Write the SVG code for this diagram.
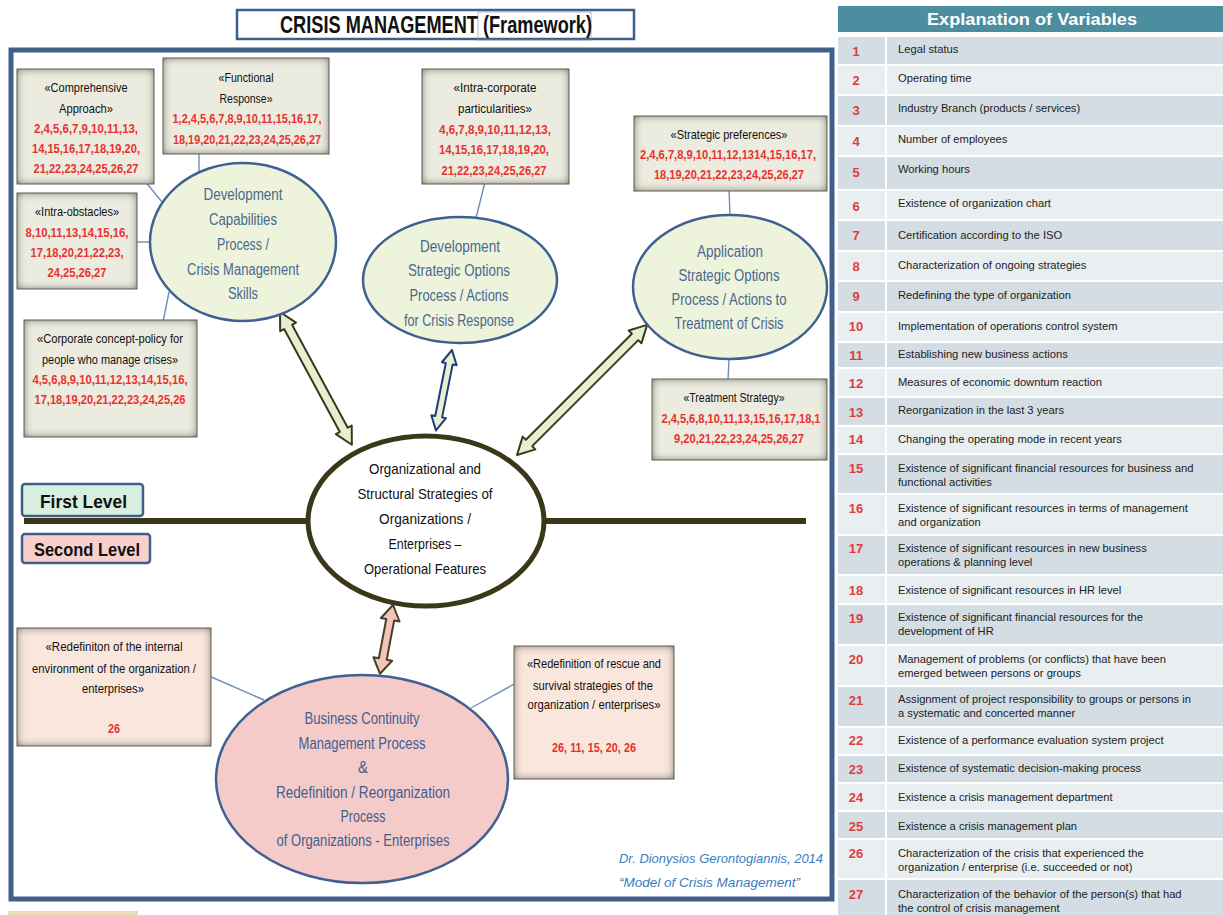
<svg xmlns="http://www.w3.org/2000/svg" width="1223" height="915" viewBox="0 0 1223 915">
  <defs>
    <!-- soft dark edge inside the note boxes -->
    <filter id="inset" x="-10%" y="-10%" width="120%" height="120%">
      <feFlood flood-color="#2e2e22" result="c"/>
      <feComposite in="c" in2="SourceAlpha" operator="out" result="ring"/>
      <feGaussianBlur in="ring" stdDeviation="4" result="soft"/>
      <feComposite in="soft" in2="SourceAlpha" operator="in" result="edge"/>
      <feMerge><feMergeNode in="SourceGraphic"/><feMergeNode in="edge"/></feMerge>
    </filter>
    <style>
      .note { fill: #ebebdf; }
      .pink { fill: #f9e6dc; }
      .noteEdge { fill: none; stroke: #5e5e50; stroke-width: 1; }
      .bt { font-family: "Liberation Sans Narrow", "Liberation Sans", Arial, sans-serif; font-size: 13.5px; fill: #111; text-anchor: middle; }
      .rn { font-family: "Liberation Sans Narrow", "Liberation Sans", Arial, sans-serif; font-size: 13.5px; font-weight: bold; fill: #e8322f; text-anchor: middle; }
      .proc { fill: #eef3dc; stroke: #3f6090; stroke-width: 2.5; }
      .et { font-family: "Liberation Sans Narrow", "Liberation Sans", Arial, sans-serif; font-size: 16px; fill: #4a6890; text-anchor: middle; }
      .ct { font-family: "Liberation Sans Narrow", "Liberation Sans", Arial, sans-serif; font-size: 15px; fill: #111; text-anchor: middle; }
      .lk { stroke: #6f8fb8; stroke-width: 1.4; fill: none; }
      .blk { fill: #e6efd2; stroke: #3a3a18; stroke-width: 2; stroke-linejoin: round; }
      .tt { font-family: "Liberation Sans", Arial, sans-serif; font-size: 11.2px; fill: #222; }
      .tn { font-family: "Liberation Sans", Arial, sans-serif; font-size: 13px; font-weight: bold; fill: #e03c3c; text-anchor: middle; }
      .rowA { fill: #d3dde3; }
      .rowB { fill: #e9eef1; }
      .lvl { font-family: "Liberation Sans Narrow", "Liberation Sans", Arial, sans-serif; font-size: 18px; font-weight: bold; fill: #111; }
    </style>
  </defs>

  <rect x="0" y="0" width="1223" height="915" fill="#ffffff"/>

  <!-- title -->
  <g id="title">
    <rect x="237" y="10" width="397" height="29" fill="#ffffff" stroke="#3e5f8a" stroke-width="2.5"/>
    <rect x="478" y="12" width="113" height="28" fill="none" stroke="#888" stroke-width="0.6"/>
    <text x="436" y="33" font-family="'Liberation Sans Narrow','Liberation Sans',Arial,sans-serif" font-size="24" font-weight="bold" fill="#111" text-anchor="middle" textLength="312" lengthAdjust="spacingAndGlyphs">CRISIS MANAGEMENT (Framework)</text>
  </g>

  <!-- outer frame -->
  <rect id="frame" x="11" y="50" width="821" height="849" fill="none" stroke="#3e5f8a" stroke-width="5"/>

  <!-- level divider -->
  <g id="levels">
    <line x1="24" y1="521" x2="307" y2="521" stroke="#3a3818" stroke-width="6"/>
    <line x1="544" y1="521" x2="806" y2="521" stroke="#3a3818" stroke-width="6"/>
    <g id="first-level">
      <rect x="22" y="484" width="121" height="32" rx="3" fill="#d8efe0" stroke="#3e5f8a" stroke-width="2.5"/>
      <text class="lvl" x="40" y="508" textLength="87" lengthAdjust="spacingAndGlyphs">First Level</text>
    </g>
    <g id="second-level">
      <rect x="22" y="534" width="128" height="29" rx="3" fill="#f7d0cc" stroke="#3e5f8a" stroke-width="2.5"/>
      <text class="lvl" x="34" y="556" textLength="106" lengthAdjust="spacingAndGlyphs">Second Level</text>
    </g>
  </g>

  <!-- connectors -->
  <g id="connectors">
    <line class="lk" x1="144" y1="180" x2="162" y2="202"/>
    <line class="lk" x1="199" y1="152" x2="199" y2="173"/>
    <line class="lk" x1="135" y1="242" x2="151" y2="242"/>
    <line class="lk" x1="163" y1="322" x2="169" y2="292"/>
    <line class="lk" x1="485" y1="182" x2="476" y2="218"/>
    <line class="lk" x1="729" y1="189" x2="730" y2="216"/>
    <line class="lk" x1="729" y1="358" x2="728" y2="381"/>
    <line class="lk" x1="209" y1="676" x2="264" y2="700"/>
    <line class="lk" x1="516" y1="683" x2="471" y2="708"/>
    <!-- double block arrows -->
    <polygon class="blk" transform="translate(280,312) rotate(61.57)" points="0,0 17,-9 17,-4.5 134,-4.5 134,-9 151,0 134,9 134,4.5 17,4.5 17,9"/>
    <polygon class="blk" style="stroke:#1d3c78" transform="translate(452,350) rotate(101.3)" points="0,0 14,-7.5 14,-3.5 68,-3.5 68,-7.5 82,0 68,7.5 68,3.5 14,3.5 14,7.5"/>
    <polygon class="blk" transform="translate(517,455) rotate(-45)" points="0,0 17,-9 17,-4.5 167,-4.5 167,-9 184,0 167,9 167,4.5 17,4.5 17,9"/>
    <polygon class="blk" style="fill:#f2c4bc;stroke:#4a4020" transform="translate(393,605) rotate(100.7)" points="0,0 15,-9.5 15,-4 55,-4 55,-9.5 70,0 55,9.5 55,4 15,4 15,9.5"/>
  </g>

  <!-- note boxes -->
  <g id="comprehensive-approach">
    <rect class="note" x="17" y="69" width="137" height="115" filter="url(#inset)"/>
    <rect class="noteEdge" x="17" y="69" width="137" height="115"/>
    <text class="bt" x="86" y="92" textLength="83" lengthAdjust="spacingAndGlyphs">«Comprehensive</text>
    <text class="bt" x="86" y="113" textLength="54" lengthAdjust="spacingAndGlyphs">Approach»</text>
    <text class="rn" x="86" y="133" textLength="104" lengthAdjust="spacingAndGlyphs">2,4,5,6,7,9,10,11,13,</text>
    <text class="rn" x="86" y="153" textLength="108" lengthAdjust="spacingAndGlyphs">14,15,16,17,18,19,20,</text>
    <text class="rn" x="86" y="173" textLength="105" lengthAdjust="spacingAndGlyphs">21,22,23,24,25,26,27</text>
  </g>

  <g id="functional-response">
    <rect class="note" x="163" y="58" width="166" height="96" filter="url(#inset)"/>
    <rect class="noteEdge" x="163" y="58" width="166" height="96"/>
    <text class="bt" x="246" y="82" textLength="55" lengthAdjust="spacingAndGlyphs">«Functional</text>
    <text class="bt" x="246" y="103" textLength="53" lengthAdjust="spacingAndGlyphs">Response»</text>
    <text class="rn" x="247" y="123" textLength="149" lengthAdjust="spacingAndGlyphs">1,2,4,5,6,7,8,9,10,11,15,16,17,</text>
    <text class="rn" x="247" y="144" textLength="148" lengthAdjust="spacingAndGlyphs">18,19,20,21,22,23,24,25,26,27</text>
  </g>

  <g id="intra-obstacles">
    <rect class="note" x="17" y="193" width="120" height="96" filter="url(#inset)"/>
    <rect class="noteEdge" x="17" y="193" width="120" height="96"/>
    <text class="bt" x="77" y="216" textLength="84" lengthAdjust="spacingAndGlyphs">«Intra-obstacles»</text>
    <text class="rn" x="77" y="237" textLength="103" lengthAdjust="spacingAndGlyphs">8,10,11,13,14,15,16,</text>
    <text class="rn" x="77" y="257" textLength="93" lengthAdjust="spacingAndGlyphs">17,18,20,21,22,23,</text>
    <text class="rn" x="77" y="277" textLength="59" lengthAdjust="spacingAndGlyphs">24,25,26,27</text>
  </g>

  <g id="corporate-concept-policy">
    <rect class="note" x="24" y="320" width="173" height="117" filter="url(#inset)"/>
    <rect class="noteEdge" x="24" y="320" width="173" height="117"/>
    <text class="bt" x="110" y="343" textLength="146" lengthAdjust="spacingAndGlyphs">«Corporate concept-policy  for</text>
    <text class="bt" x="110" y="364" textLength="136" lengthAdjust="spacingAndGlyphs">people who manage crises»</text>
    <text class="rn" x="110" y="384" textLength="155" lengthAdjust="spacingAndGlyphs">4,5,6,8,9,10,11,12,13,14,15,16,</text>
    <text class="rn" x="110" y="404" textLength="151" lengthAdjust="spacingAndGlyphs">17,18,19,20,21,22,23,24,25,26</text>
  </g>

  <g id="intra-corporate-particularities">
    <rect class="note" x="422" y="69" width="147" height="115" filter="url(#inset)"/>
    <rect class="noteEdge" x="422" y="69" width="147" height="115"/>
    <text class="bt" x="495" y="92" textLength="83" lengthAdjust="spacingAndGlyphs">«Intra-corporate</text>
    <text class="bt" x="495" y="113" textLength="74" lengthAdjust="spacingAndGlyphs">particularities»</text>
    <text class="rn" x="495" y="134" textLength="112" lengthAdjust="spacingAndGlyphs">4,6,7,8,9,10,11,12,13,</text>
    <text class="rn" x="494" y="154" textLength="110" lengthAdjust="spacingAndGlyphs">14,15,16,17,18,19,20,</text>
    <text class="rn" x="494" y="175" textLength="105" lengthAdjust="spacingAndGlyphs">21,22,23,24,25,26,27</text>
  </g>

  <g id="strategic-preferences">
    <rect class="note" x="634" y="116" width="193" height="75" filter="url(#inset)"/>
    <rect class="noteEdge" x="634" y="116" width="193" height="75"/>
    <text class="bt" x="729" y="139" textLength="117" lengthAdjust="spacingAndGlyphs">«Strategic preferences»</text>
    <text class="rn" x="728" y="159" font-size="13" textLength="176" lengthAdjust="spacingAndGlyphs">2,4,6,7,8,9,10,11,12,1314,15,16,17,</text>
    <text class="rn" x="729" y="179" textLength="150" lengthAdjust="spacingAndGlyphs">18,19,20,21,22,23,24,25,26,27</text>
  </g>

  <g id="treatment-strategy">
    <rect class="note" x="652" y="379" width="175" height="81" filter="url(#inset)"/>
    <rect class="noteEdge" x="652" y="379" width="175" height="81"/>
    <text class="bt" x="734" y="402" textLength="101" lengthAdjust="spacingAndGlyphs">«Treatment Strategy»</text>
    <text class="rn" x="741" y="423" style="font-size:13px" textLength="159" lengthAdjust="spacingAndGlyphs">2,4,5,6,8,10,11,13,15,16,17,18,1</text>
    <text class="rn" x="739" y="443" textLength="130" lengthAdjust="spacingAndGlyphs">9,20,21,22,23,24,25,26,27</text>
  </g>

  <g id="internal-environment">
    <rect class="pink" x="17" y="628" width="194" height="118" filter="url(#inset)"/>
    <rect class="noteEdge" x="17" y="628" width="194" height="118"/>
    <text class="bt" x="114" y="651" textLength="137" lengthAdjust="spacingAndGlyphs">«Redefiniton  of the internal</text>
    <text class="bt" x="114" y="673" textLength="164" lengthAdjust="spacingAndGlyphs">environment of the organization /</text>
    <text class="bt" x="113" y="693" textLength="62" lengthAdjust="spacingAndGlyphs">enterprises»</text>
    <text class="rn" x="114" y="733" textLength="12" lengthAdjust="spacingAndGlyphs">26</text>
  </g>

  <g id="rescue-survival">
    <rect class="pink" x="514" y="646" width="160" height="133" filter="url(#inset)"/>
    <rect class="noteEdge" x="514" y="646" width="160" height="133"/>
    <text class="bt" x="594" y="668" textLength="134" lengthAdjust="spacingAndGlyphs">«Redefinition  of rescue and</text>
    <text class="bt" x="593" y="690" textLength="120" lengthAdjust="spacingAndGlyphs">survival strategies of the</text>
    <text class="bt" x="594" y="709" textLength="133" lengthAdjust="spacingAndGlyphs">organization / enterprises»</text>
    <text class="rn" x="594" y="752" textLength="84" lengthAdjust="spacingAndGlyphs">26, 11, 15, 20, 26</text>
  </g>

  <!-- process ellipses -->
  <g id="development-capabilities">
    <ellipse class="proc" cx="243" cy="242" rx="93" ry="79"/>
    <text class="et" x="243" y="200" textLength="79" lengthAdjust="spacingAndGlyphs">Development</text>
    <text class="et" x="243" y="225" textLength="68" lengthAdjust="spacingAndGlyphs">Capabilities</text>
    <text class="et" x="243" y="250" textLength="52" lengthAdjust="spacingAndGlyphs">Process /</text>
    <text class="et" x="243" y="275" textLength="112" lengthAdjust="spacingAndGlyphs">Crisis Management</text>
    <text class="et" x="243" y="299" textLength="30" lengthAdjust="spacingAndGlyphs">Skills</text>
  </g>

  <g id="development-strategic-options">
    <ellipse class="proc" cx="460" cy="280" rx="97" ry="63"/>
    <text class="et" x="460" y="252" textLength="80" lengthAdjust="spacingAndGlyphs">Development</text>
    <text class="et" x="459" y="276" textLength="102" lengthAdjust="spacingAndGlyphs">Strategic Options</text>
    <text class="et" x="459" y="301" textLength="99" lengthAdjust="spacingAndGlyphs">Process / Actions</text>
    <text class="et" x="459" y="326" textLength="110" lengthAdjust="spacingAndGlyphs">for Crisis Response</text>
  </g>

  <g id="application-strategic-options">
    <ellipse class="proc" cx="730" cy="287" rx="97" ry="72"/>
    <text class="et" x="730" y="257" textLength="66" lengthAdjust="spacingAndGlyphs">Application</text>
    <text class="et" x="729" y="281" textLength="101" lengthAdjust="spacingAndGlyphs">Strategic Options</text>
    <text class="et" x="729" y="305" textLength="115" lengthAdjust="spacingAndGlyphs">Process / Actions to</text>
    <text class="et" x="729" y="329" textLength="109" lengthAdjust="spacingAndGlyphs">Treatment of Crisis</text>
  </g>

  <g id="organizational-strategies">
    <ellipse cx="426" cy="521" rx="118" ry="85" fill="#ffffff" stroke="#3a3818" stroke-width="5"/>
    <text class="ct" x="425" y="474" textLength="112" lengthAdjust="spacingAndGlyphs">Organizational and</text>
    <text class="ct" x="425" y="499" textLength="135" lengthAdjust="spacingAndGlyphs">Structural Strategies of</text>
    <text class="ct" x="425" y="524" textLength="92" lengthAdjust="spacingAndGlyphs">Organizations /</text>
    <text class="ct" x="425" y="549" textLength="73" lengthAdjust="spacingAndGlyphs">Enterprises –</text>
    <text class="ct" x="425" y="574" textLength="122" lengthAdjust="spacingAndGlyphs">Operational Features</text>
  </g>

  <g id="business-continuity">
    <ellipse cx="362" cy="779" rx="146" ry="104" fill="#f5cbca" stroke="#3f6090" stroke-width="2.5"/>
    <text class="et" style="fill:#3e5f8e" x="362" y="724" textLength="115" lengthAdjust="spacingAndGlyphs">Business Continuity</text>
    <text class="et" style="fill:#3e5f8e" x="362" y="749" textLength="127" lengthAdjust="spacingAndGlyphs">Management Process</text>
    <text class="et" style="fill:#3e5f8e" x="363" y="773" textLength="10" lengthAdjust="spacingAndGlyphs">&amp;</text>
    <text class="et" style="fill:#3e5f8e" x="363" y="798" textLength="174" lengthAdjust="spacingAndGlyphs">Redefinition / Reorganization</text>
    <text class="et" style="fill:#3e5f8e" x="363" y="822" textLength="45" lengthAdjust="spacingAndGlyphs">Process</text>
    <text class="et" style="fill:#3e5f8e" x="363" y="846" textLength="173" lengthAdjust="spacingAndGlyphs">of Organizations - Enterprises</text>
  </g>

  <!-- author credit -->
  <g id="credit" font-family="'Liberation Sans Narrow','Liberation Sans',Arial,sans-serif" font-size="13.5" font-style="italic" fill="#3a7cc0">
    <text x="619" y="863" textLength="204" lengthAdjust="spacingAndGlyphs">Dr. Dionysios Gerontogiannis, 2014</text>
    <text x="619" y="887" textLength="181" lengthAdjust="spacingAndGlyphs">“Model of Crisis Management”</text>
  </g>

  <rect x="8" y="911" width="130" height="4" fill="#eadcb8"/>

  <!-- variables table -->
  <g id="variables-table">
    <rect x="838" y="6" width="385" height="26" fill="#4b8ea0"/>
    <text x="1032" y="25" font-family="'Liberation Sans',Arial,sans-serif" font-size="16.5" font-weight="bold" fill="#ffffff" text-anchor="middle" textLength="210" lengthAdjust="spacingAndGlyphs">Explanation of Variables</text>

    <g id="row-1"><rect class="rowA" x="838" y="37" width="47" height="27"/><rect class="rowA" x="887" y="37" width="336" height="27"/><text class="tn" x="856" y="56">1</text><text class="tt" x="898" y="53">Legal status</text></g>
    <g id="row-2"><rect class="rowB" x="838" y="66" width="47" height="28"/><rect class="rowB" x="887" y="66" width="336" height="28"/><text class="tn" x="856" y="85">2</text><text class="tt" x="898" y="82">Operating time</text></g>
    <g id="row-3"><rect class="rowA" x="838" y="96" width="47" height="29"/><rect class="rowA" x="887" y="96" width="336" height="29"/><text class="tn" x="856" y="115">3</text><text class="tt" x="898" y="112">Industry Branch (products / services)</text></g>
    <g id="row-4"><rect class="rowB" x="838" y="127" width="47" height="28"/><rect class="rowB" x="887" y="127" width="336" height="28"/><text class="tn" x="856" y="146">4</text><text class="tt" x="898" y="143">Number of employees</text></g>
    <g id="row-5"><rect class="rowA" x="838" y="157" width="47" height="32"/><rect class="rowA" x="887" y="157" width="336" height="32"/><text class="tn" x="856" y="177">5</text><text class="tt" x="898" y="173">Working hours</text></g>
    <g id="row-6"><rect class="rowB" x="838" y="191" width="47" height="28"/><rect class="rowB" x="887" y="191" width="336" height="28"/><text class="tn" x="856" y="211">6</text><text class="tt" x="898" y="207">Existence of organization chart</text></g>
    <g id="row-7"><rect class="rowA" x="838" y="221" width="47" height="29"/><rect class="rowA" x="887" y="221" width="336" height="29"/><text class="tn" x="856" y="240">7</text><text class="tt" x="898" y="239">Certification according to the ISO</text></g>
    <g id="row-8"><rect class="rowB" x="838" y="252" width="47" height="28"/><rect class="rowB" x="887" y="252" width="336" height="28"/><text class="tn" x="856" y="271">8</text><text class="tt" x="898" y="269">Characterization of ongoing strategies</text></g>
    <g id="row-9"><rect class="rowA" x="838" y="282" width="47" height="29"/><rect class="rowA" x="887" y="282" width="336" height="29"/><text class="tn" x="856" y="301">9</text><text class="tt" x="898" y="299">Redefining the type of organization</text></g>
    <g id="row-10"><rect class="rowB" x="838" y="313" width="47" height="28"/><rect class="rowB" x="887" y="313" width="336" height="28"/><text class="tn" x="856" y="331">10</text><text class="tt" x="898" y="330">Implementation of operations control system</text></g>
    <g id="row-11"><rect class="rowA" x="838" y="343" width="47" height="24"/><rect class="rowA" x="887" y="343" width="336" height="24"/><text class="tn" x="856" y="360">11</text><text class="tt" x="898" y="358">Establishing new business actions</text></g>
    <g id="row-12"><rect class="rowB" x="838" y="369" width="47" height="27"/><rect class="rowB" x="887" y="369" width="336" height="27"/><text class="tn" x="856" y="388">12</text><text class="tt" x="898" y="386">Measures of economic downtum reaction</text></g>
    <g id="row-13"><rect class="rowA" x="838" y="398" width="47" height="27"/><rect class="rowA" x="887" y="398" width="336" height="27"/><text class="tn" x="856" y="417">13</text><text class="tt" x="898" y="414">Reorganization in the last 3 years</text></g>
    <g id="row-14"><rect class="rowB" x="838" y="427" width="47" height="26"/><rect class="rowB" x="887" y="427" width="336" height="26"/><text class="tn" x="856" y="444">14</text><text class="tt" x="898" y="443">Changing the operating mode in recent years</text></g>
    <g id="row-15"><rect class="rowA" x="838" y="455" width="47" height="38"/><rect class="rowA" x="887" y="455" width="336" height="38"/><text class="tn" x="856" y="473">15</text><text class="tt" x="898" y="472">Existence of significant financial resources for business and</text><text class="tt" x="898" y="486">functional activities</text></g>
    <g id="row-16"><rect class="rowB" x="838" y="495" width="47" height="39"/><rect class="rowB" x="887" y="495" width="336" height="39"/><text class="tn" x="856" y="513">16</text><text class="tt" x="898" y="512">Existence of significant resources in terms of management</text><text class="tt" x="898" y="526">and organization</text></g>
    <g id="row-17"><rect class="rowA" x="838" y="536" width="47" height="38"/><rect class="rowA" x="887" y="536" width="336" height="38"/><text class="tn" x="856" y="553">17</text><text class="tt" x="898" y="552">Existence of significant resources in new business</text><text class="tt" x="898" y="566">operations &amp; planning level</text></g>
    <g id="row-18"><rect class="rowB" x="838" y="576" width="47" height="27"/><rect class="rowB" x="887" y="576" width="336" height="27"/><text class="tn" x="856" y="595">18</text><text class="tt" x="898" y="594">Existence of significant resources in HR level</text></g>
    <g id="row-19"><rect class="rowA" x="838" y="605" width="47" height="39"/><rect class="rowA" x="887" y="605" width="336" height="39"/><text class="tn" x="856" y="623">19</text><text class="tt" x="898" y="621">Existence of significant financial resources for the</text><text class="tt" x="898" y="635">development of HR</text></g>
    <g id="row-20"><rect class="rowB" x="838" y="646" width="47" height="39"/><rect class="rowB" x="887" y="646" width="336" height="39"/><text class="tn" x="856" y="664">20</text><text class="tt" x="898" y="663">Management of problems (or conflicts) that have been</text><text class="tt" x="898" y="677">emerged between persons or groups</text></g>
    <g id="row-21"><rect class="rowA" x="838" y="687" width="47" height="39"/><rect class="rowA" x="887" y="687" width="336" height="39"/><text class="tn" x="856" y="705">21</text><text class="tt" x="898" y="703">Assignment of project responsibility to groups or persons in</text><text class="tt" x="898" y="717">a systematic and concerted manner</text></g>
    <g id="row-22"><rect class="rowB" x="838" y="728" width="47" height="26"/><rect class="rowB" x="887" y="728" width="336" height="26"/><text class="tn" x="856" y="745">22</text><text class="tt" x="898" y="744">Existence of a performance evaluation system project</text></g>
    <g id="row-23"><rect class="rowA" x="838" y="756" width="47" height="26"/><rect class="rowA" x="887" y="756" width="336" height="26"/><text class="tn" x="856" y="774">23</text><text class="tt" x="898" y="772">Existence of systematic decision-making process</text></g>
    <g id="row-24"><rect class="rowB" x="838" y="784" width="47" height="26"/><rect class="rowB" x="887" y="784" width="336" height="26"/><text class="tn" x="856" y="802">24</text><text class="tt" x="898" y="801">Existence a crisis management department</text></g>
    <g id="row-25"><rect class="rowA" x="838" y="812" width="47" height="26"/><rect class="rowA" x="887" y="812" width="336" height="26"/><text class="tn" x="856" y="831">25</text><text class="tt" x="898" y="830">Existence a crisis management plan</text></g>
    <g id="row-26"><rect class="rowB" x="838" y="840" width="47" height="38"/><rect class="rowB" x="887" y="840" width="336" height="38"/><text class="tn" x="856" y="858">26</text><text class="tt" x="898" y="857">Characterization of the crisis that experienced the</text><text class="tt" x="898" y="871">organization / enterprise (i.e. succeeded or not)</text></g>
    <g id="row-27"><rect class="rowA" x="838" y="880" width="47" height="35"/><rect class="rowA" x="887" y="880" width="336" height="35"/><text class="tn" x="856" y="899">27</text><text class="tt" x="898" y="898">Characterization of the behavior of the person(s) that had</text><text class="tt" x="898" y="912">the control of crisis management</text></g>
  </g>
</svg>
